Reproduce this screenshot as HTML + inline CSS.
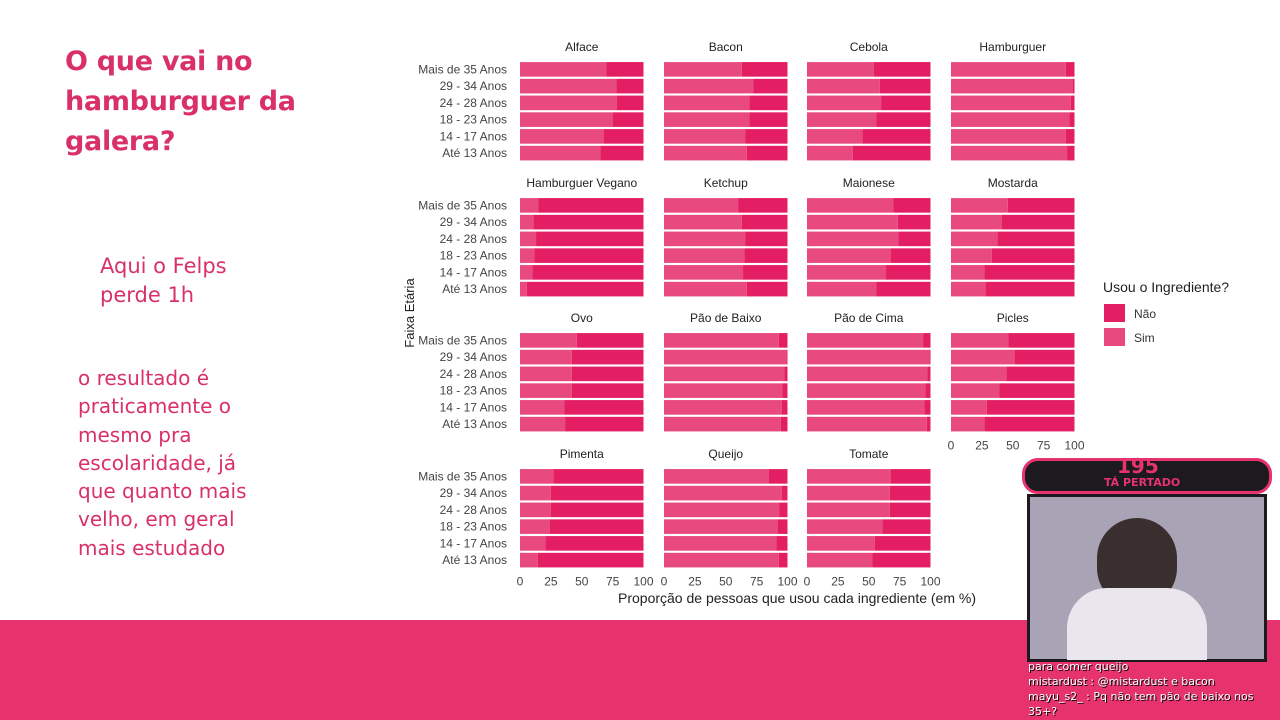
<!DOCTYPE html>
<html><head><meta charset="utf-8"><style>
html,body{margin:0;padding:0;}
body{width:1280px;height:720px;position:relative;overflow:hidden;background:#fff;font-family:"Liberation Sans",sans-serif;}
.t{position:absolute;color:#d9306a;font-family:"DejaVu Sans",sans-serif;}
#title{left:65px;top:42px;font-size:27px;font-weight:bold;line-height:40px;letter-spacing:-0.3px;}
#felps{left:100px;top:252px;font-size:21px;line-height:29px;}
#res{left:78px;top:364px;font-size:20px;line-height:28.3px;}
#band{position:absolute;left:0;top:620px;width:1280px;height:100px;background:#e6336d;}
#cam{position:absolute;left:1022px;top:458px;width:250px;height:206px;}
.chat{position:absolute;left:1028px;color:#fff;font-size:11px;font-family:"DejaVu Sans",sans-serif;text-shadow:1px 1px 0 #000;}
</style></head><body>
<div class="t" id="title">O que vai no<br>hamburguer da<br>galera?</div>
<div class="t" id="felps">Aqui o Felps<br>perde 1h</div>
<div class="t" id="res">o resultado é<br>praticamente o<br>mesmo pra<br>escolaridade, já<br>que quanto mais<br>velho, em geral<br>mais estudado</div>
<div id="band"></div>
<svg id="chart" width="1280" height="620" style="position:absolute;left:0;top:0"></svg>
<div id="cam">
<div style="position:absolute;left:0;top:0;width:250px;height:36px;background:#1d1a1f;border-radius:16px;border:3px solid #e6336d;box-sizing:border-box"></div>
<div style="position:absolute;left:95px;top:-4px;color:#e6336d;font-weight:bold;font-size:20px;font-family:'DejaVu Sans',sans-serif">195</div>
<div style="position:absolute;left:82px;top:18px;color:#e6336d;font-weight:bold;font-size:11px;font-family:'DejaVu Sans',sans-serif">TÁ PERTADO</div>
<div style="position:absolute;left:5px;top:36px;width:240px;height:168px;background:#a9a3b6;border:3px solid #1d1a1f;box-sizing:border-box"></div>
<div style="position:absolute;left:75px;top:60px;width:80px;height:90px;background:#3a2f2e;border-radius:40px"></div>
<div style="position:absolute;left:45px;top:130px;width:140px;height:72px;background:#e9e6ee;border-radius:40px 40px 0 0"></div>
</div>
<div class="chat" style="top:660px">para comer queijo</div>
<div class="chat" style="top:675px">mistardust : @mistardust e bacon</div>
<div class="chat" style="top:690px">mayu_s2_ : Pq não tem pão de baixo nos</div>
<div class="chat" style="top:705px">35+?</div>
<script>
const facets=["Alface","Bacon","Cebola","Hamburguer","Hamburguer Vegano","Ketchup","Maionese","Mostarda","Ovo","Pão de Baixo","Pão de Cima","Picles","Pimenta","Queijo","Tomate"];
const ages=["Mais de 35 Anos","29 - 34 Anos","24 - 28 Anos","18 - 23 Anos","14 - 17 Anos","Até 13 Anos"];
const ticks=[0,25,50,75,100];
// Sim % per facet, ordered by ages
const sim=[
[70,78,78.5,75,68,65],
[63,72.5,69,69,66,67],
[54,59,60,56,45,37],
[93,98.5,97,96,93,94],
[15,11,13,11.5,10,5.5],
[60,63,66,65,64,67],
[70,73.5,74,68,64,56],
[46,41,37.5,33,27,28],
[46,42,42,42,36,36.5],
[93,99,97.5,96,95.5,94.5],
[94,99,97.5,96,95,97],
[46.5,51.5,45,39,29,27],
[27,25,25,24,20.5,14.5],
[85,95.5,93.5,92,91,93],
[68,67,67,61,55,53]
];
const NS="http://www.w3.org/2000/svg";
const svg=document.getElementById('chart');
function mk(tag,attrs,txt){const e=document.createElementNS(NS,tag);for(const k in attrs)e.setAttribute(k,attrs[k]);if(txt!==undefined)e.textContent=txt;svg.appendChild(e);return e;}
const colX=[520,664,807,951], W=123.5;
const rowTop=[61,197,332,468], band=16.75, barH=14.6;
const xs=(c,v)=>colX[c]+v/100*W;
const yc=(r,i)=>rowTop[r]+band*i+band/2;
facets.forEach((f,k)=>{
  const c=k%4,r=Math.floor(k/4);
  let e=mk('text',{x:colX[c]+W/2,y:rowTop[r]-10,'text-anchor':'middle','font-size':12,fill:'#222'},f);
  
  
  ages.forEach((a,i)=>{
    const y=yc(r,i)-barH/2, v=sim[k][i];
    let b1=mk('rect',{x:xs(c,0),y:y,width:xs(c,v)-xs(c,0),height:barH,fill:'#e8497f'});
    
    
    let b2=mk('rect',{x:xs(c,v),y:y,width:xs(c,100)-xs(c,v),height:barH,fill:'#e31e63'});
    
    
    if(c===0){
      let l=mk('text',{x:507,y:yc(r,i)+4,'text-anchor':'end','font-size':12,fill:'#444'},a);
      
      
    }
  });
  const last=(r===3)||(k===11);
  if(last){
    ticks.forEach(t=>{
      let l=mk('text',{x:xs(c,t),y:rowTop[r]+band*6+17,'text-anchor':'middle','font-size':12,fill:'#444'},t);
      
      
    });
  }
});
let xt=mk('text',{x:797,y:603,'text-anchor':'middle','font-size':14,fill:'#222'},'Proporção de pessoas que usou cada ingrediente (em %)');


let yt=mk('text',{x:0,y:0,'text-anchor':'middle','font-size':13,fill:'#222',transform:'translate(414,313) rotate(-90)'},'Faixa Etária');


let lt=mk('text',{x:1103,y:292,'font-size':14,fill:'#222'},'Usou o Ingrediente?');


[['Não','#e31e63',304],['Sim','#e8497f',328]].forEach(([n,col,y])=>{
  let s=mk('rect',{x:1104,y:y,width:21,height:18,fill:col});
  
  
  let t=mk('text',{x:1134,y:y+14,'font-size':12,fill:'#333'},n);
  
  
});
</script>
</body></html>
